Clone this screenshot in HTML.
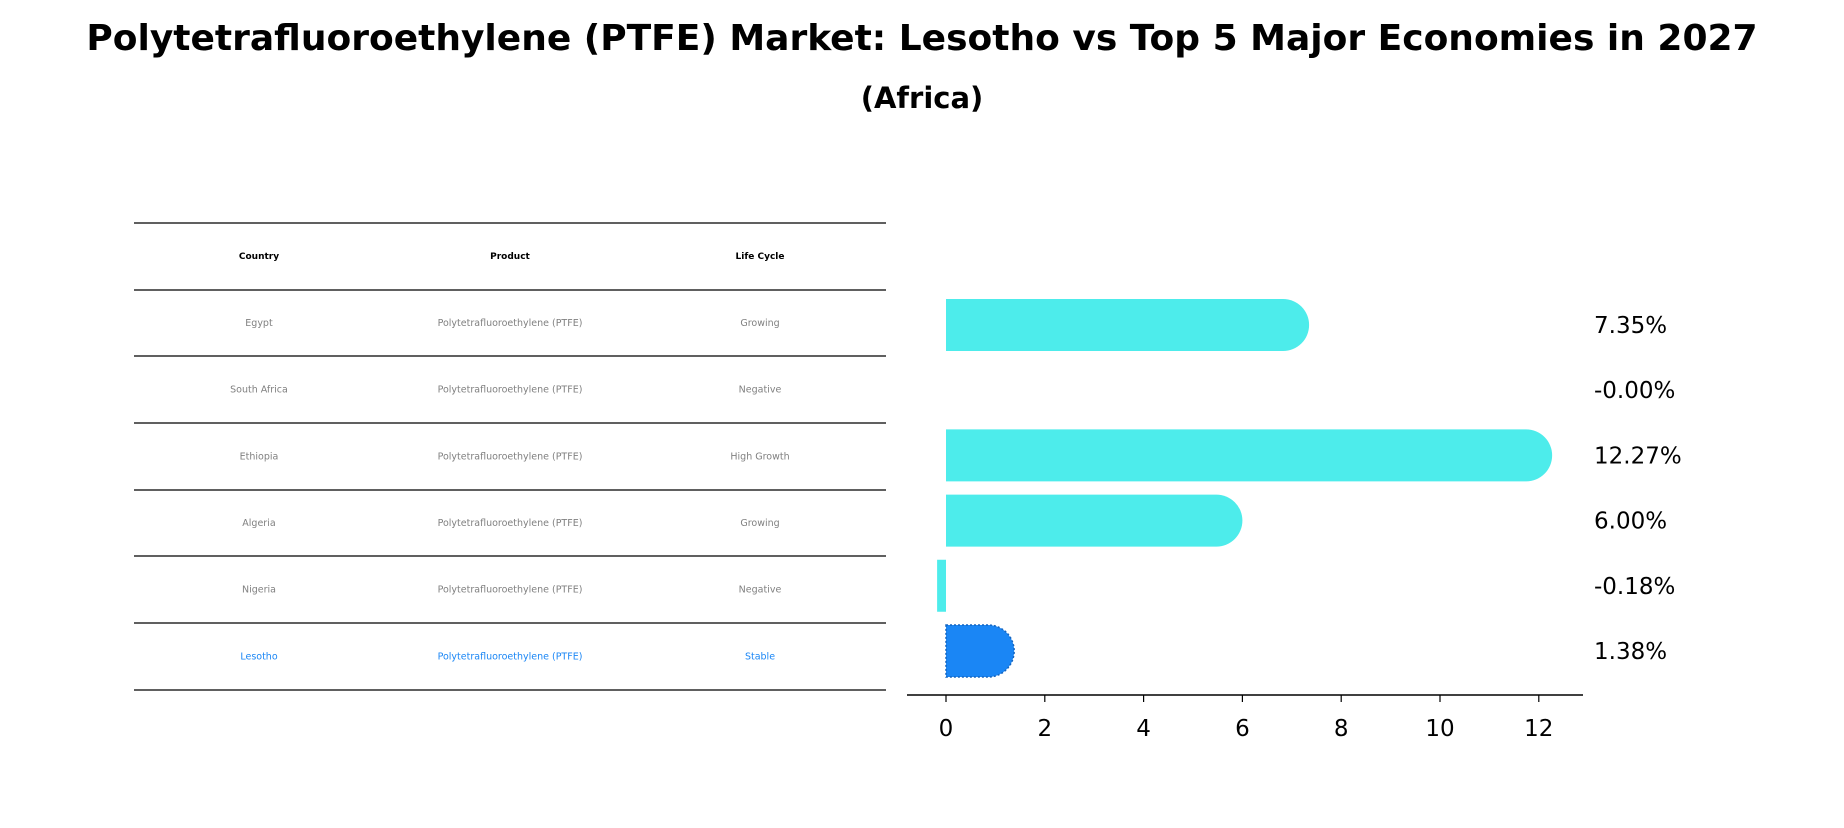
<!DOCTYPE html>
<html><head><meta charset="utf-8"><style>
body{margin:0;background:#fff;font-family:"Liberation Sans","DejaVu Sans",sans-serif;}
svg text{font-family:"DejaVu Sans","Liberation Sans",sans-serif;}
</style></head><body>
<svg id="c" width="1844" height="823" xmlns="http://www.w3.org/2000/svg">
<text x="922" y="50" text-anchor="middle" font-size="36" font-weight="bold">Polytetrafluoroethylene (PTFE) Market: Lesotho vs Top 5 Major Economies in 2027</text>
<text x="922" y="108" text-anchor="middle" font-size="29" font-weight="bold">(Africa)</text>
<g id="table"></g>
<g id="bars"></g>
</svg>
<script>
const countries=["Egypt","South Africa","Ethiopia","Algeria","Nigeria","Lesotho"];
const products=["Polytetrafluoroethylene (PTFE)","Polytetrafluoroethylene (PTFE)","Polytetrafluoroethylene (PTFE)","Polytetrafluoroethylene (PTFE)","Polytetrafluoroethylene (PTFE)","Polytetrafluoroethylene (PTFE)"];
const lifeCycles=["Growing","Negative","High Growth","Growing","Negative","Stable"];
const values=[7.35,-0.00,12.27,6.00,-0.18,1.38];
const valueLabels=["7.35%","-0.00%","12.27%","6.00%","-0.18%","1.38%"];
const xTicks=[0,2,4,6,8,10,12];
const NS="http://www.w3.org/2000/svg";
function mk(tag,attrs,parent){const e=document.createElementNS(NS,tag);for(const k in attrs)e.setAttribute(k,attrs[k]);parent.appendChild(e);return e;}
// table
const tb=document.getElementById('table');
const rowY=[223,290,356,423,490,556,623,690];
const colX=[259,510,760];
rowY.forEach((y,i)=>{const l=mk('line',{x1:134,x2:886,y1:y,y2:y,stroke:'#000','stroke-width':1.2},tb);

});
["Country","Product","Life Cycle"].forEach((h,j)=>{const t=mk('text',{x:colX[j],y:259,'text-anchor':'middle','font-size':9,'font-weight':'bold'},tb);t.textContent=h;

});
countries.forEach((c,i)=>{const y=(rowY[i+1]+rowY[i+2])/2+3;const col=c==="Lesotho"?'#1a86f5':'#808080';
[c,products[i],lifeCycles[i]].forEach((v,j)=>{const t=mk('text',{x:colX[j],y:y,'text-anchor':'middle','font-size':9.5,fill:col},tb);t.textContent=v;

});});
// bars
const g=document.getElementById('bars');
const x0=946,unit=49.4;const xs=v=>x0+v*unit;
const yc=i=>325+i*65.2;const bh=52;
countries.forEach((c,i)=>{const v=values[i];const col=c==="Lesotho"?'#1a86f5':'#4deceb';
const a=xs(Math.min(0,v)),b=xs(Math.max(0,v));const w=b-a;const r=Math.min(bh/2,w);
let d;
if(v>0&&w>r){d=`M${a},${yc(i)-bh/2} H${b-r} A${r},${bh/2} 0 0 1 ${b-r},${yc(i)+bh/2} H${a} Z`;}
else{d=`M${a},${yc(i)-bh/2} H${b} V${yc(i)+bh/2} H${a} Z`;}
const p=mk('path',{d:d,fill:col},g);
if(c==="Lesotho"){p.setAttribute('stroke','#1565c0');p.setAttribute('stroke-dasharray','2,2');p.setAttribute('stroke-width','1.5');}


const t=mk('text',{x:1594,y:yc(i)+8,'font-size':23},g);t.textContent=valueLabels[i];

});
const ax=mk('line',{x1:907,x2:1583,y1:695,y2:695,stroke:'#000','stroke-width':1.5},g);


xTicks.forEach(v=>{const tk=mk('line',{x1:xs(v),x2:xs(v),y1:695,y2:702,stroke:'#000','stroke-width':1.2},g);


const t=mk('text',{x:xs(v),y:736,'text-anchor':'middle','font-size':23},g);t.textContent=v;

});
</script>
</body></html>
